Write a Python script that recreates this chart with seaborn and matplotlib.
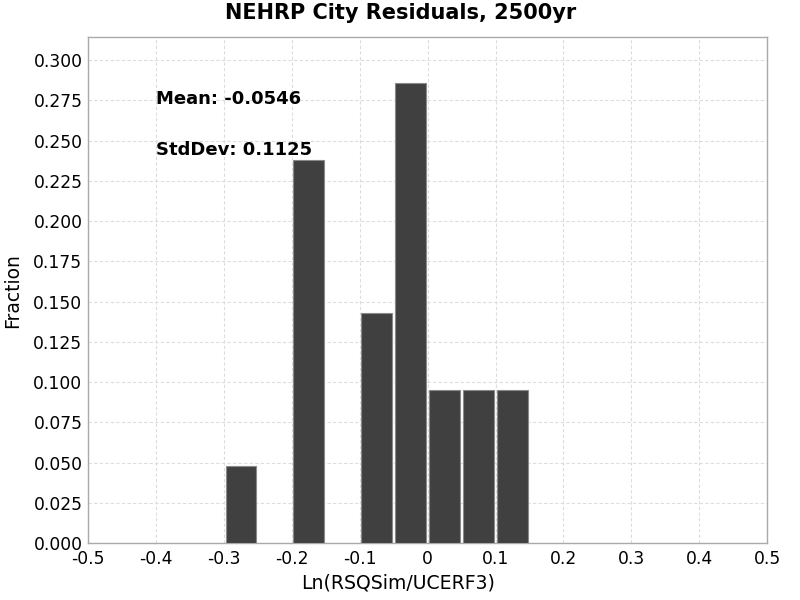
import numpy as np
import pandas as pd
import matplotlib
matplotlib.use("Agg")
import matplotlib.pyplot as plt
import seaborn as sns

# bin centers of the residual histogram and fraction of cities in each
bin_centers = [-0.275, -0.175, -0.075, -0.025, 0.025, 0.075, 0.125]
fractions = [0.0476, 0.2381, 0.1429, 0.2857, 0.0952, 0.0952, 0.0952]
x_ticks = [-0.5, -0.4, -0.3, -0.2, -0.1, 0, 0.1, 0.2, 0.3, 0.4, 0.5]
x_tick_labels = ["-0.5", "-0.4", "-0.3", "-0.2", "-0.1", "0", "0.1", "0.2", "0.3", "0.4", "0.5"]
mean_text = "Mean: -0.0546"
std_text = "StdDev: 0.1125"

df = pd.DataFrame({"center": bin_centers, "fraction": fractions})

sns.set_style("white")
plt.rcParams["font.family"] = ["DejaVu Sans"]
plt.rcParams["text.color"] = "black"
plt.rcParams["axes.labelcolor"] = "black"

fig = plt.figure(figsize=(8, 6), dpi=100)
ax = fig.add_axes([0.11, 0.095, 0.849, 0.843])

ax.bar(df["center"], df["fraction"], width=0.045, color="#404040",
       edgecolor="#8a8a8a", linewidth=0.8, zorder=3)

ax.set_xlim(-0.5, 0.5)
ax.set_ylim(0, max(fractions) * 1.1)
ax.set_xticks(x_ticks)
ax.set_xticklabels(x_tick_labels)
ax.set_yticks(np.arange(0, 0.301, 0.025))
ax.yaxis.set_major_formatter(matplotlib.ticker.FormatStrFormatter("%.3f"))
ax.tick_params(axis="both", labelsize=12.3, length=0, colors="black")
ax.tick_params(axis="x", pad=5)
ax.tick_params(axis="y", pad=4)

ax.grid(True, color="#dddddd", linestyle=(0, (3, 2)), linewidth=0.8, zorder=0)
for s in ax.spines.values():
    s.set_color("#aaaaaa")
    s.set_linewidth(1)

ax.set_ylabel("Fraction", fontsize=13.5, labelpad=8)
fig.text(0.4975, 0.028, "Ln(RSQSim/UCERF3)", fontsize=13.6, ha="center", va="center")
fig.suptitle("NEHRP City Residuals, 2500yr", fontsize=15, fontweight="bold",
             x=0.501, y=0.978, va="center")

ax.text(-0.4, 0.2727, mean_text, fontsize=13, fontweight="bold", va="baseline")
ax.text(-0.4, 0.241, std_text, fontsize=13, fontweight="bold", va="baseline")

fig.savefig("out.png", dpi=100)
